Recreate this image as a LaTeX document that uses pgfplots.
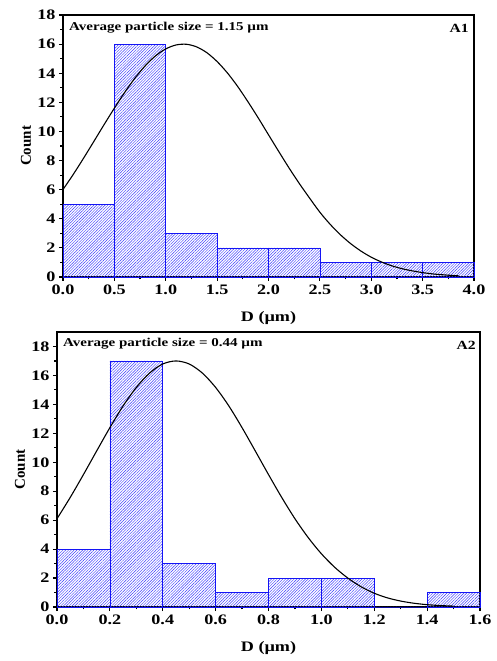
\documentclass[border=0pt]{standalone}
\usepackage{pgfplots}
\pgfplotsset{compat=1.18}
\usepackage{fontspec}
\setmainfont{Liberation Serif}[FakeStretch=1.25]
\newfontfamily\plainserif{Liberation Serif}
\usetikzlibrary{patterns.meta}
\definecolor{barblue}{RGB}{20,20,245}
\definecolor{hatchblue}{RGB}{60,60,250}
\pgfplotsset{
  myax/.style={
    scale only axis,
    anchor=south west,
    axis line style={line width=1.5pt},
    xtick pos=bottom, ytick pos=left,
    tick align=outside,
    major tick length=4pt, minor tick length=2.5pt,
    every tick/.style={black, line width=1.2pt},
    minor tick num=1,
    ymin=0,
    ytick={0,2,...,18},
    /pgf/number format/assume math mode=true,
    ticklabel style={font=\bfseries\fontsize{14.5}{14.5}\selectfont},
    xticklabel style={/pgf/number format/.cd, fixed, fixed zerofill, precision=1},
    yticklabel style={/pgf/number format/.cd, fixed, precision=0},
    clip=false,
  },
  hist/.style={ybar interval, draw=barblue, line width=0.6pt,
    pattern={Lines[angle=45, distance=2pt, line width=0.45pt]}, pattern color=hatchblue},
  gauss/.style={black, line width=1.1pt, smooth, no marks},
}
\newcommand{\labels}{%
  \node[rotate=90, font=\plainserif\bfseries\fontsize{15}{15}\selectfont]
    at ([xshift=-37pt]rel axis cs:0,0.5) {Count};
  \node[anchor=base, font=\bfseries\fontsize{14.5}{14.5}\selectfont]
    at ([yshift=-45pt]rel axis cs:0.5,0) {D (µm)};
}
\begin{document}
\begin{tikzpicture}
\useasboundingbox (0,0) rectangle (497pt,661pt);
% ---------- A1 ----------
\begin{axis}[myax, at={(63pt,384pt)}, width=411pt, height=262pt,
  xmin=0, xmax=4, ymax=18, xtick={0,0.5,...,4}]
\addplot[hist] coordinates {(0,5) (0.5,16) (1,3) (1.5,2) (2,2) (2.5,1) (3,1) (3.5,1) (4,1)};
\addplot[gauss] coordinates {
(0,6.01) (0.1,7.05) (0.2,8.16) (0.3,9.31) (0.4,10.47) (0.5,11.60) (0.6,12.68)
(0.7,13.66) (0.8,14.51) (0.9,15.19) (1.0,15.67) (1.1,15.94) (1.2,15.99) (1.3,15.81)
(1.4,15.41) (1.5,14.80) (1.6,14.02) (1.7,13.09) (1.8,12.04) (1.9,10.93) (2.0,9.77)
(2.1,8.62) (2.2,7.49) (2.3,6.42) (2.4,5.42) (2.5,4.45) (2.6,3.62) (2.7,2.90)
(2.8,2.29) (2.9,1.78) (3.0,1.36) (3.1,1.03) (3.2,0.77) (3.3,0.57) (3.4,0.42)
(3.5,0.30) (3.6,0.21) (3.7,0.15) (3.8,0.10) (3.85,0.08)};
\node[anchor=north west, font=\bfseries\fontsize{12}{12}\selectfont, inner sep=0pt]
  at ([xshift=6pt,yshift=-7pt]rel axis cs:0,1) {Average particle size = 1.15 µm};
\node[anchor=north east, font=\bfseries\fontsize{12.5}{12.5}\selectfont, inner sep=0pt]
  at ([xshift=-5pt,yshift=-9pt]rel axis cs:1,1) {A1};
\labels
\end{axis}
% ---------- A2 ----------
\begin{axis}[myax, at={(57pt,54pt)}, width=423pt, height=275pt,
  xmin=0, xmax=1.6, ymax=19, xtick={0,0.2,...,1.6}]
\addplot[hist] coordinates {(0,4) (0.2,17) (0.4,3) (0.6,1) (0.8,2) (1.0,2) (1.2,0) (1.4,1) (1.6,1)};
\addplot[gauss] coordinates {
(0,6.10) (0.05,7.57) (0.1,9.15) (0.15,10.78) (0.2,12.39) (0.25,13.89) (0.3,15.17)
(0.35,16.16) (0.4,16.79) (0.45,17.00) (0.5,16.79) (0.55,16.16) (0.6,15.17)
(0.65,13.89) (0.7,12.39) (0.75,10.78) (0.8,9.15) (0.85,7.57) (0.9,6.10) (0.95,4.80)
(1.0,3.68) (1.05,2.75) (1.1,2.00) (1.15,1.40) (1.2,0.95) (1.25,0.63) (1.3,0.41)
(1.35,0.26) (1.4,0.16) (1.45,0.10) (1.5,0.06)};
\node[anchor=north west, font=\bfseries\fontsize{12}{12}\selectfont, inner sep=0pt]
  at ([xshift=6pt,yshift=-6pt]rel axis cs:0,1) {Average particle size = 0.44 µm};
\node[anchor=north east, font=\bfseries\fontsize{12.5}{12.5}\selectfont, inner sep=0pt]
  at ([xshift=-4pt,yshift=-9pt]rel axis cs:1,1) {A2};
\labels
\end{axis}
\end{tikzpicture}
\end{document}
